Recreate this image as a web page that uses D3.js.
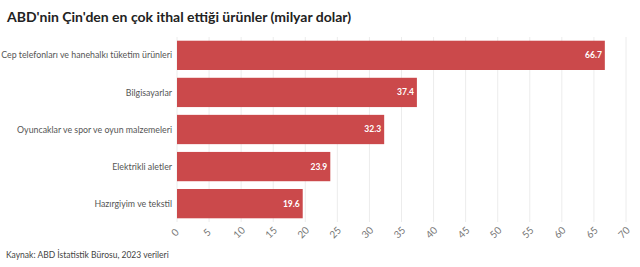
<!DOCTYPE html>
<html>
<head>
<meta charset="utf-8">
<script src="https://cdn.jsdelivr.net/npm/d3@7"></script>
<style>
  body { margin: 0; background: #fff; }
  #chart { width: 640px; height: 267px; }
  text { font-family: Lato, sans-serif; }
</style>
</head>
<body>
<div id="chart"></div>
<script>
const categories = [
  'Cep telefonları ve hanehalkı tüketim ürünleri',
  'Bilgisayarlar',
  'Oyuncaklar ve spor ve oyun malzemeleri',
  'Elektrikli aletler',
  'Hazırgiyim ve tekstil',
]
const values = [66.7, 37.4, 32.3, 23.9, 19.6]
const xTicks = [0, 5, 10, 15, 20, 25, 30, 35, 40, 45, 50, 55, 60, 65, 70]

const canvasWidth = 640
const canvasHeight = 267
const margins = {top: 37, right: 14, bottom: 45, left: 177}
const width = canvasWidth - margins.left - margins.right
const height = canvasHeight - margins.top - margins.bottom

const svg = d3
  .select('#chart')
  .append('svg')
  .attr('width', canvasWidth)
  .attr('height', canvasHeight)

svg
  .append('text')
  .attr('x', 7)
  .attr('y', 22)
  .attr('font-size', '14px')
  .attr('font-weight', 700)
  .style('fill', '#222')
  .text("ABD'nin Çin'den en çok ithal ettiği ürünler (milyar dolar)")

svg
  .append('text')
  .attr('x', 6)
  .attr('y', 258)
  .attr('font-size', '8.5px')
  .style('fill', '#444')
  .text('Kaynak: ABD İstatistik Bürosu, 2023 verileri')

const g = svg
  .append('g')
  .attr('transform', `translate(${margins.left}, ${margins.top})`)

const xScale = d3.scaleLinear().domain([0, 70]).range([0, width])
const yScale = d3
  .scaleBand()
  .domain(categories)
  .range([0, height])
  .paddingInner(0.21)
  .paddingOuter(0.1)

// gridlines
g.append('g')
  .selectAll('line')
  .data(xTicks)
  .enter()
  .append('line')
  .attr('x1', d => xScale(d))
  .attr('x2', d => xScale(d))
  .attr('y1', 0)
  .attr('y2', height)
  .style('stroke', '#ececec')
  .style('stroke-width', 1)

const xAxis = d3.axisBottom(xScale).tickValues(xTicks).tickSize(0).tickPadding(10)

const xg = g
  .append('g')
  .attr('transform', `translate(0, ${height})`)
  .call(xAxis)
xg.select('.domain').remove()
xg.selectAll('text')
  .attr('font-family', 'Lato, sans-serif')
  .attr('font-size', '10px')
  .style('fill', '#777')
  .attr('text-anchor', 'middle')
  .attr('dy', 0)
  .attr('y', 0)
  .attr('transform', 'translate(0, 13) rotate(-45)')

const rows = g
  .selectAll('g.row')
  .data(categories.map((c, i) => ({name: c, value: values[i]})))
  .enter()
  .append('g')
  .attr('class', 'row')

rows
  .append('rect')
  .attr('x', 0)
  .attr('y', d => yScale(d.name))
  .attr('width', d => xScale(d.value))
  .attr('height', yScale.bandwidth())
  .style('fill', '#cb494b')

rows
  .append('text')
  .attr('x', -5)
  .attr('y', d => yScale(d.name) + yScale.bandwidth() / 2)
  .attr('dy', '0.35em')
  .attr('font-size', '8.8px')
  .style('text-anchor', 'end')
  .style('fill', '#555')
  .text(d => d.name)

rows
  .append('text')
  .attr('x', d => xScale(d.value) - 3)
  .attr('y', d => yScale(d.name) + yScale.bandwidth() / 2)
  .attr('dy', '0.35em')
  .attr('font-size', '8.5px')
  .attr('font-weight', 700)
  .style('text-anchor', 'end')
  .style('fill', '#fff')
  .text(d => d.value)
</script>
</body>
</html>
